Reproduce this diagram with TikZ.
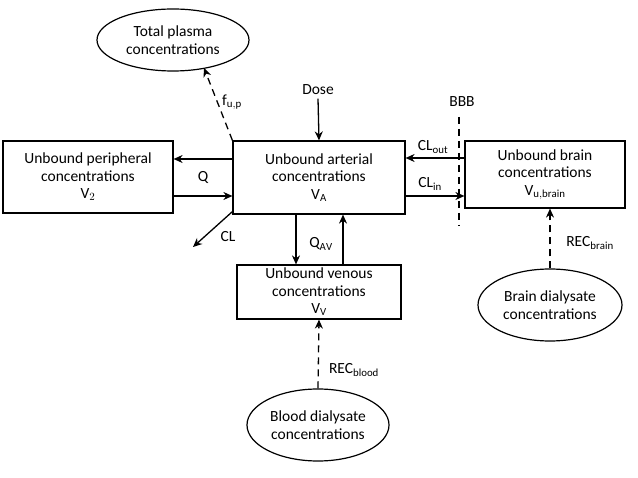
\documentclass[tikz,border=0pt]{standalone}
\usepackage{fontspec}
\setmainfont{Carlito}
\usetikzlibrary{arrows.meta,shapes.geometric}
\begin{document}
\begin{tikzpicture}[x=1pt,y=-1pt,
  every node/.style={font=\fontsize{15.5}{17.5}\selectfont},
  box/.style={draw,line width=1.2pt,align=center,inner sep=0pt},
  ell/.style={draw,line width=1.2pt,ellipse,align=center,inner sep=0pt},
  arr/.style={line width=1.3pt,-{Stealth[length=9pt,width=8pt]}},
  darr/.style={arr,dash pattern=on 7pt off 5pt},
  lbl/.style={inner sep=1pt}]
\useasboundingbox (0,0) rectangle (638,478);
\node[box,minimum width=170,minimum height=72] (per) at (88,177) {Unbound peripheral\\concentrations\\V$_2$};
\node[box,minimum width=172,minimum height=73] (art) at (319,177.5) {Unbound arterial\\concentrations\\V$_\mathrm{A}$};
\node[box,minimum width=160,minimum height=67] (brn) at (545,174.5) {Unbound brain\\concentrations\\V$_\mathrm{u,brain}$};
\node[box,minimum width=164,minimum height=54] (ven) at (319,292) {Unbound venous\\concentrations\\V$_\mathrm{V}$};
\node[ell,minimum width=152,minimum height=62] (tot) at (173,40) {Total plasma\\concentrations};
\node[ell,minimum width=144,minimum height=72] (bd) at (550,305) {Brain dialysate\\concentrations};
\node[ell,minimum width=142,minimum height=72] (bl) at (318,425) {Blood dialysate\\concentrations};
\node (dose) at (318,90) {Dose};
\draw[arr] (dose.south) -- (art.north);
\coordinate (t1) at (204,68);
\draw[darr] (art.north west) -- (t1);
\node (fup) at (232,102) {f$_\mathrm{u,p}$};
\draw[arr] (art.west |- 0,159) -- (per.east |- 0,159);
\draw[arr] (per.east |- 0,196) -- (art.west |- 0,196);
\node at (203,177) {Q};
\coordinate (cle) at (193,247);
\draw[arr] (art.south west) ++(0,-3) -- (cle);
\node at (228,237) {CL};
\draw[arr] (art.south -| 296,0) -- (ven.north -| 296,0);
\draw[arr] (ven.north -| 343,0) -- (art.south -| 343,0);
\node at (321,244) {Q$_\mathrm{AV}$};
\draw[arr] (brn.west |- 0,158) -- (art.east |- 0,158);
\draw[arr] (art.east |- 0,196) -- (brn.west |- 0,196);
\node at (433,147) {CL$_\mathrm{out}$};
\node at (430,184) {CL$_\mathrm{in}$};
\node (bbb) at (462,102) {BBB};
\coordinate (b1) at (459,117);
\coordinate (b2) at (459,226);
\draw[line width=1.3pt,dash pattern=on 7pt off 5pt] (b1) -- (b2);
\draw[darr] (bd.north) -- (brn.south -| bd.north);
\node at (590,243) {REC$_\mathrm{brain}$};
\draw[darr] (bl.north) -- (ven.south);
\node at (354,370) {REC$_\mathrm{blood}$};
\end{tikzpicture}
\end{document}
